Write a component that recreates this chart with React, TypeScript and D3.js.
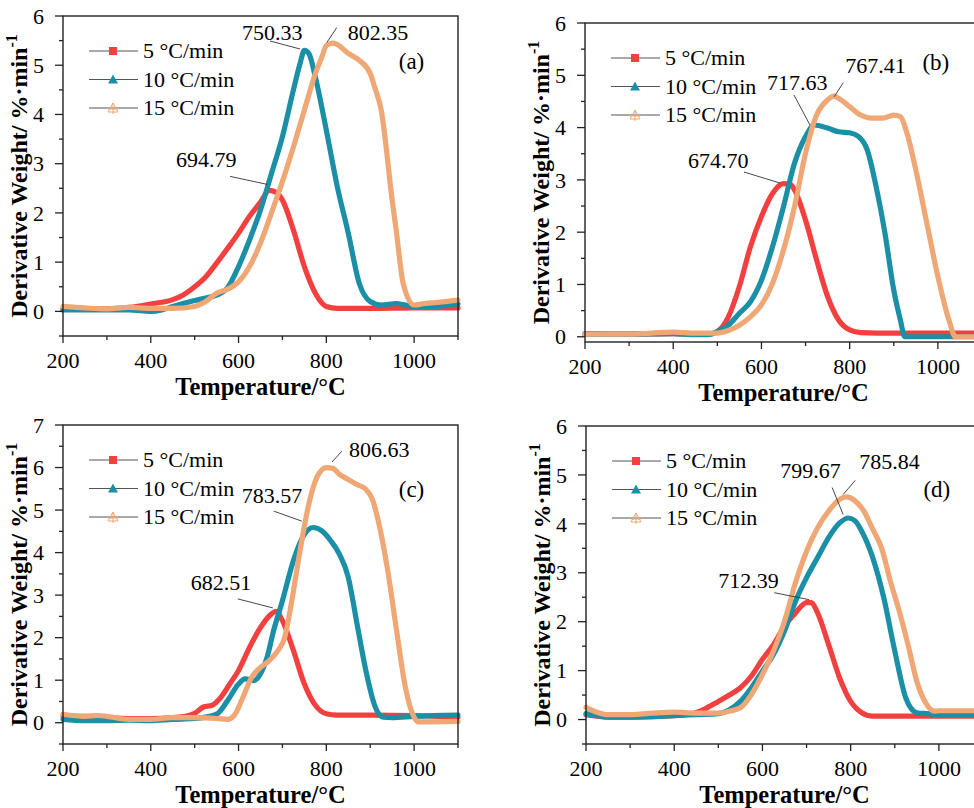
import * as d3 from "d3";

type Pt = [number, number];

// heating rates
const rates = ["5 °C/min", "10 °C/min", "15 °C/min"];
const colors = ["#f24040", "#1b8fa6", "#efa775"];

// x ticks
const xMajor = [200, 400, 600, 800, 1000];
const xMinor = [300, 500, 700, 900, 1100];

// (a)
const aRed: Pt[] = [[200,0.05],[250,0.05],[300,0.05],[350,0.08],[400,0.15],[450,0.24],[475,0.34],[500,0.5],[525,0.7],[550,0.98],[575,1.28],[600,1.59],[625,1.93],[650,2.22],[670,2.46],[685,2.42],[700,2.26],[725,1.65],[750,0.91],[775,0.37],[800,0.1],[825,0.06],[900,0.06],[1000,0.07],[1100,0.07]];
const aTeal: Pt[] = [[200,0.03],[300,0.03],[350,0.03],[400,0.0],[425,0.03],[450,0.1],[500,0.22],[525,0.27],[550,0.33],[575,0.48],[600,0.91],[625,1.45],[650,2.06],[675,2.8],[700,3.55],[725,4.5],[740,5.03],[750,5.3],[760,5.24],[775,4.76],[800,3.68],[825,2.53],[850,1.59],[875,0.57],[900,0.2],[925,0.13],[960,0.16],[1000,0.1],[1050,0.1],[1100,0.15]];
const aOrange: Pt[] = [[200,0.1],[250,0.07],[300,0.05],[350,0.08],[400,0.06],[450,0.06],[500,0.1],[525,0.2],[550,0.37],[575,0.45],[600,0.6],[625,0.91],[650,1.39],[675,2.0],[700,2.64],[725,3.34],[750,4.09],[775,4.83],[790,5.17],[800,5.4],[815,5.45],[825,5.42],[850,5.24],[875,5.1],[900,4.83],[910,4.56],[925,4.09],[950,2.26],[960,1.59],[975,0.57],[1000,0.13],[1025,0.16],[1050,0.18],[1100,0.23]];

// (b)
const bRed: Pt[] = [[200,0.06],[300,0.05],[400,0.06],[450,0.05],[480,0.05],[500,0.1],[525,0.38],[550,0.96],[575,1.72],[600,2.3],[625,2.74],[650,2.93],[665,2.92],[675,2.81],[700,2.23],[725,1.47],[750,0.77],[775,0.32],[800,0.13],[825,0.08],[900,0.07],[1100,0.07]];
const bTeal: Pt[] = [[200,0.05],[300,0.05],[400,0.06],[450,0.04],[480,0.04],[500,0.1],[525,0.22],[550,0.45],[575,0.67],[600,1.08],[625,1.72],[650,2.49],[675,3.32],[700,3.83],[720,4.05],[750,3.99],[775,3.92],[800,3.9],[820,3.83],[840,3.57],[860,2.87],[880,1.98],[900,0.89],[915,0.32],[925,0.0],[950,0.0],[1100,0.0]];
const bOrange: Pt[] = [[200,0.05],[300,0.05],[350,0.07],[400,0.09],[450,0.07],[500,0.07],[525,0.12],[550,0.22],[575,0.38],[600,0.61],[625,1.02],[650,1.66],[675,2.49],[700,3.51],[725,4.24],[750,4.53],[765,4.6],[775,4.56],[800,4.4],[825,4.24],[850,4.18],[875,4.18],[900,4.24],[915,4.21],[930,3.89],[950,3.19],[975,2.17],[1000,1.15],[1025,0.32],[1040,0.0],[1100,0.0]];

// (c)
const cRed: Pt[] = [[200,0.15],[250,0.15],[300,0.12],[350,0.1],[400,0.1],[450,0.12],[480,0.15],[500,0.22],[520,0.37],[540,0.41],[560,0.6],[580,0.91],[600,1.23],[625,1.77],[650,2.24],[675,2.56],[685,2.62],[700,2.4],[725,1.7],[750,0.91],[775,0.41],[800,0.21],[825,0.18],[900,0.18],[1000,0.17],[1100,0.12]];
const cTeal: Pt[] = [[200,0.08],[250,0.05],[300,0.05],[350,0.06],[400,0.05],[450,0.08],[500,0.1],[550,0.2],[575,0.52],[600,0.91],[615,1.03],[635,0.99],[650,1.15],[665,1.54],[680,2.17],[700,2.87],[725,3.81],[750,4.43],[770,4.59],[790,4.51],[810,4.28],[830,3.96],[850,3.42],[870,2.32],[890,1.23],[910,0.41],[930,0.13],[950,0.12],[1000,0.15],[1100,0.18]];
const cOrange: Pt[] = [[200,0.2],[250,0.15],[280,0.17],[300,0.15],[350,0.08],[400,0.08],[450,0.12],[500,0.12],[550,0.1],[575,0.08],[590,0.17],[610,0.6],[630,1.07],[650,1.3],[670,1.46],[690,1.7],[705,2.0],[720,2.79],[740,4.04],[760,5.14],[780,5.8],[800,6.0],[815,5.98],[830,5.84],[850,5.72],[870,5.6],[890,5.49],[905,5.25],[920,4.67],[940,3.57],[960,2.17],[980,0.84],[1000,0.13],[1010,0.02],[1100,0.03]];

// (d)
const dRed: Pt[] = [[200,0.1],[250,0.05],[300,0.05],[400,0.08],[440,0.12],[470,0.22],[500,0.37],[525,0.5],[550,0.65],[575,0.89],[600,1.23],[625,1.53],[650,1.91],[675,2.18],[700,2.39],[710,2.39],[725,2.18],[750,1.53],[775,0.85],[800,0.37],[825,0.14],[850,0.07],[1100,0.07]];
const dTeal: Pt[] = [[200,0.12],[225,0.08],[250,0.05],[300,0.05],[400,0.08],[450,0.1],[500,0.12],[525,0.2],[550,0.37],[575,0.65],[600,0.99],[625,1.33],[650,1.81],[675,2.42],[700,2.9],[725,3.31],[750,3.72],[775,4.02],[795,4.12],[810,4.06],[825,3.85],[850,3.31],[875,2.49],[900,1.4],[925,0.44],[950,0.14],[975,0.12],[1000,0.1],[1100,0.1]];
const dOrange: Pt[] = [[200,0.25],[225,0.15],[250,0.1],[300,0.1],[350,0.13],[400,0.15],[450,0.13],[500,0.13],[525,0.17],[550,0.24],[575,0.51],[600,0.92],[625,1.4],[650,2.01],[675,2.8],[700,3.44],[725,3.92],[750,4.26],[775,4.5],[790,4.55],[810,4.47],[830,4.26],[850,3.89],[870,3.51],[890,2.83],[910,2.22],[930,1.53],[950,0.78],[970,0.34],[990,0.17],[1000,0.18],[1100,0.18]];

// peak labels: pointer end in data coords, leader start / text offsets in px
type Ann = { text: string; T: number; v: number; lx: number; ly: number; tx: number; ty: number };
const aAnn: Ann[] = [
  { text: "750.33", T: 740, v: 5.33, lx: -30, ly: -8, tx: -58, ty: -9 },
  { text: "802.35", T: 801, v: 5.46, lx: 10, ly: -15, tx: 21, ty: -3 },
  { text: "694.79", T: 665, v: 2.58, lx: -37, ly: -8, tx: -91, ty: -17 },
];
const bAnn: Ann[] = [
  { text: "767.41", T: 765, v: 4.59, lx: 9, ly: -14, tx: 11, ty: -24 },
  { text: "717.63", T: 710, v: 4.05, lx: -16, ly: -30, tx: -43, ty: -35 },
  { text: "674.70", T: 642, v: 2.94, lx: -36, ly: -11, tx: -92, ty: -15 },
];
const cAnn: Ann[] = [
  { text: "806.63", T: 813, v: 6.13, lx: 10, ly: -11, tx: 17, ty: -5 },
  { text: "783.57", T: 744, v: 4.74, lx: -28, ly: -10, tx: -60, ty: -18 },
  { text: "682.51", T: 678, v: 2.7, lx: -35, ly: -9, tx: -82, ty: -18 },
];
const dAnn: Ann[] = [
  { text: "799.67", T: 783, v: 4.19, lx: -11, ly: -27, tx: -63, ty: -37 },
  { text: "785.84", T: 783, v: 4.6, lx: 12, ly: -14, tx: 16, ty: -25 },
  { text: "712.39", T: 706, v: 2.45, lx: -35, ly: -7, tx: -91, ty: -12 },
];

const FONT = "Liberation Serif, DejaVu Serif, serif";
const AXIS = "#222";

type PanelProps = {
  left: number; top: number; width: number; height: number;
  yMin: number; yMax: number;
  series: Pt[][]; ann: Ann[]; tag: string; tagDy: number;
};

function Marker({ i, x, y }: { i: number; x: number; y: number }) {
  if (i === 0) return <rect x={x - 4} y={y - 4} width={8} height={8} fill={colors[0]} />;
  if (i === 1) return <path d={`M${x},${y - 5}L${x + 5},${y + 4}L${x - 5},${y + 4}Z`} fill={colors[1]} />;
  return (
    <g stroke={colors[2]} strokeWidth={1} fill="none">
      <path d={`M${x},${y - 5}L${x + 5},${y + 4}L${x - 5},${y + 4}Z`} />
      <path d={`M${x},${y - 5}V${y + 6}M${x - 5},${y + 1}H${x + 5}`} />
    </g>
  );
}

function Panel(p: PanelProps) {
  const x = d3.scaleLinear().domain([200, 1100]).range([p.left, p.left + p.width]);
  const y = d3.scaleLinear().domain([p.yMin, p.yMax]).range([p.top + p.height, p.top]);
  const line = d3.line<Pt>().x((d) => x(d[0])).y((d) => y(d[1])).curve(d3.curveMonotoneX);
  const bottom = p.top + p.height;
  const yMajor = d3.range(0, p.yMax + 0.01, 1);
  const yMinor = d3.range(-0.5, p.yMax, 1).filter((v) => v >= p.yMin);
  const midY = p.top + p.height / 2;

  return (
    <g style={{ fontFamily: FONT }}>
      {p.series.map((s, i) => (
        <path key={i} d={line(s) || ""} fill="none" stroke={colors[i]} strokeWidth={5.2} strokeLinejoin="round" strokeLinecap="round" />
      ))}
      <rect x={p.left} y={p.top} width={p.width} height={p.height} fill="none" stroke={AXIS} strokeWidth={1.4} />
      {yMajor.map((v) => (
        <g key={"ym" + v}>
          <line x1={p.left - 8} x2={p.left} y1={y(v)} y2={y(v)} stroke={AXIS} strokeWidth={1.3} />
          <text x={p.left - 19} y={y(v)} dy="0.35em" textAnchor="end" fontSize={22}>{v}</text>
        </g>
      ))}
      {yMinor.map((v) => (
        <line key={"yn" + v} x1={p.left - 4} x2={p.left} y1={y(v)} y2={y(v)} stroke={AXIS} strokeWidth={1.3} />
      ))}
      {xMajor.map((t) => (
        <g key={"xm" + t}>
          <line x1={x(t)} x2={x(t)} y1={bottom} y2={bottom + 7} stroke={AXIS} strokeWidth={1.3} />
          <text x={x(t)} y={bottom + 32} textAnchor="middle" fontSize={22}>{t}</text>
        </g>
      ))}
      {xMinor.map((t) => (
        <line key={"xn" + t} x1={x(t)} x2={x(t)} y1={bottom} y2={bottom + 4} stroke={AXIS} strokeWidth={1.3} />
      ))}
      <text x={p.left + p.width / 2} y={bottom + 59} textAnchor="middle" fontSize={24.5} fontWeight="bold">Temperature/°C</text>
      <text transform={`translate(${p.left - 36},${midY}) rotate(-90)`} textAnchor="middle" fontSize={24} fontWeight="bold">
        Derivative Weight/ %·min<tspan dy={-10} fontSize={16}>-1</tspan>
      </text>
      {rates.map((r, i) => {
        const ly = p.top + 35 + i * 28.5;
        return (
          <g key={r}>
            <line x1={p.left + 26} x2={p.left + 75} y1={ly} y2={ly} stroke="#555" strokeWidth={1} />
            <Marker i={i} x={p.left + 50} y={ly} />
            <text x={p.left + 80} y={ly + 7} fontSize={22}>{r}</text>
          </g>
        );
      })}
      <text x={x(965)} y={p.top + p.tagDy} fontSize={23}>{p.tag}</text>
      {p.ann.map((a) => {
        const ex = x(a.T), ey = y(a.v);
        return (
          <g key={a.text}>
            <line x1={ex + a.lx} y1={ey + a.ly} x2={ex} y2={ey} stroke="#333" strokeWidth={0.9} />
            <text x={ex + a.tx} y={ey + a.ty} fontSize={22}>{a.text}</text>
          </g>
        );
      })}
    </g>
  );
}

export default function App() {
  return (
    <svg width={974} height={808} style={{ position: "absolute", left: 0, top: 0, background: "#fff" }}>
      <rect width={974} height={808} fill="#fff" />
      <Panel left={63} top={16} width={395} height={320} yMin={-0.5} yMax={6} series={[aRed, aTeal, aOrange]} ann={aAnn} tag="(a)" tagDy={53} />
      <Panel left={585} top={23} width={397} height={319} yMin={-0.1} yMax={6} series={[bRed, bTeal, bOrange]} ann={bAnn} tag="(b)" tagDy={47} />
      <Panel left={63} top={425} width={395} height={319} yMin={-0.5} yMax={7} series={[cRed, cTeal, cOrange]} ann={cAnn} tag="(c)" tagDy={72} />
      <Panel left={586} top={426} width={397} height={318} yMin={-0.5} yMax={6} series={[dRed, dTeal, dOrange]} ann={dAnn} tag="(d)" tagDy={71} />
    </svg>
  );
}
